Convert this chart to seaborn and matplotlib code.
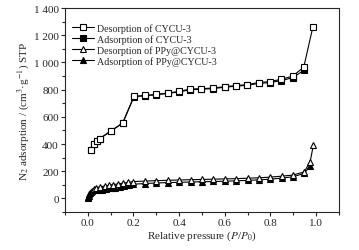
import numpy as np
import pandas as pd
import matplotlib
matplotlib.use("Agg")
import matplotlib.pyplot as plt
from matplotlib.ticker import FuncFormatter, MultipleLocator
import seaborn as sns

# ---------------------------------------------------------
# Data (read off the reference isotherms)
# ---------------------------------------------------------
cycu_p = [0.012, 0.028, 0.042, 0.052, 0.103, 0.153, 0.202, 0.252, 0.30, 0.35,
          0.40, 0.449, 0.498, 0.549, 0.60, 0.649, 0.699, 0.748, 0.796, 0.847,
          0.897, 0.946, 0.986]
cycu_des = [354, 400, 420, 440, 498, 555, 750, 758, 765, 775,
            787, 805, 807, 812, 822, 830, 837, 852, 859, 876,
            899, 965, 1261]
cycu_ads_p = [0.012, 0.028, 0.042, 0.052, 0.103, 0.153, 0.202, 0.252, 0.30, 0.35,
              0.40, 0.449, 0.498, 0.549, 0.60, 0.649, 0.699, 0.748, 0.796, 0.847,
              0.897, 0.946]
cycu_ads = [354, 400, 420, 440, 498, 555, 748, 756, 763, 772,
            784, 800, 803, 808, 818, 826, 832, 846, 852, 866,
            888, 941]

ppy_des_p = [0.026, 0.038, 0.055, 0.074, 0.093, 0.11, 0.132, 0.154, 0.176, 0.198,
             0.249, 0.30, 0.35, 0.40, 0.45, 0.50, 0.55, 0.60, 0.65, 0.70,
             0.748, 0.798, 0.849, 0.897, 0.948, 0.974, 0.988]
ppy_des = [72, 80, 86, 92, 97, 102, 107, 113, 118, 124,
           128, 131, 134, 136, 138, 140, 142, 144, 146, 149,
           152, 157, 164, 172, 195, 270, 390]
ppy_ads_p = [0.0, 0.002, 0.004, 0.006, 0.008, 0.012, 0.02, 0.04, 0.06, 0.08,
             0.10, 0.12, 0.14, 0.16, 0.18, 0.20, 0.25, 0.30, 0.35, 0.40,
             0.45, 0.50, 0.55, 0.60, 0.65, 0.70, 0.75, 0.80, 0.85, 0.90,
             0.948, 0.974]
ppy_ads = [0, 10, 20, 30, 38, 45, 52, 60, 65, 70,
           75, 80, 85, 90, 97, 105, 110, 114, 117, 119,
           121, 123, 125, 127, 130, 133, 137, 142, 150, 160,
           185, 237]

labels = ["Desorption of CYCU-3", "Adsorption of CYCU-3",
          "Desorption of PPy@CYCU-3", "Adsorption of PPy@CYCU-3"]

# ---------------------------------------------------------
# Plot
# ---------------------------------------------------------
sns.set_style("ticks")
plt.rcParams["font.family"] = ["Liberation Serif", "DejaVu Serif"]
plt.rcParams["mathtext.fontset"] = "stix"
plt.rcParams["xtick.direction"] = "out"
plt.rcParams["ytick.direction"] = "out"

fig = plt.figure(figsize=(3.59, 2.51), dpi=100)
ax = fig.add_axes([0.181, 0.151, 0.763, 0.813])

common = dict(color="black", linewidth=0.8, markersize=3.8, markeredgewidth=0.8,
              markeredgecolor="black", sort=False, ax=ax)

sns.lineplot(x=cycu_ads_p, y=cycu_ads, marker="s", markerfacecolor="black",
             label=labels[1], zorder=2, **common)
sns.lineplot(x=cycu_p, y=cycu_des, marker="s", markerfacecolor="white",
             label=labels[0], zorder=3, **common)
sns.lineplot(x=ppy_ads_p, y=ppy_ads, marker="^", markerfacecolor="black",
             label=labels[3], zorder=2, **common)
sns.lineplot(x=ppy_des_p, y=ppy_des, marker="^", markerfacecolor="white",
             label=labels[2], zorder=3, **common)

ax.set_xlim(-0.1, 1.1)
ax.set_ylim(-100, 1400)
ax.xaxis.set_major_locator(MultipleLocator(0.2))
ax.xaxis.set_minor_locator(MultipleLocator(0.1))
ax.yaxis.set_major_locator(MultipleLocator(200))
ax.yaxis.set_minor_locator(MultipleLocator(100))
ax.xaxis.set_major_formatter(FuncFormatter(lambda v, p: f"{v:.1f}"))
ax.yaxis.set_major_formatter(
    FuncFormatter(lambda v, p: f"{int(round(v)):,}".replace(",", " ")))
ax.tick_params(which="major", length=3, width=0.8, labelsize=8, pad=1.5)
ax.tick_params(which="minor", length=2, width=0.8)
for s in ax.spines.values():
    s.set_linewidth(0.8)
    s.set_visible(True)

ax.set_xlabel("Relative pressure ($P$/$P_0$)", fontsize=8, labelpad=1)
ax.set_ylabel("N$_2$ adsorption / (cm$^3$·g$^{-1}$) STP", fontsize=8, labelpad=2)

handles, labs = ax.get_legend_handles_labels()
order = [labs.index(l) for l in labels]
ax.legend([handles[i] for i in order], [labs[i] for i in order],
          loc="upper left", frameon=False, fontsize=7.2, handlelength=2.2,
          handletextpad=0.3, labelspacing=0.12, borderaxespad=0.3,
          bbox_to_anchor=(0.0, 0.96))

fig.savefig("out.png", dpi=100)
